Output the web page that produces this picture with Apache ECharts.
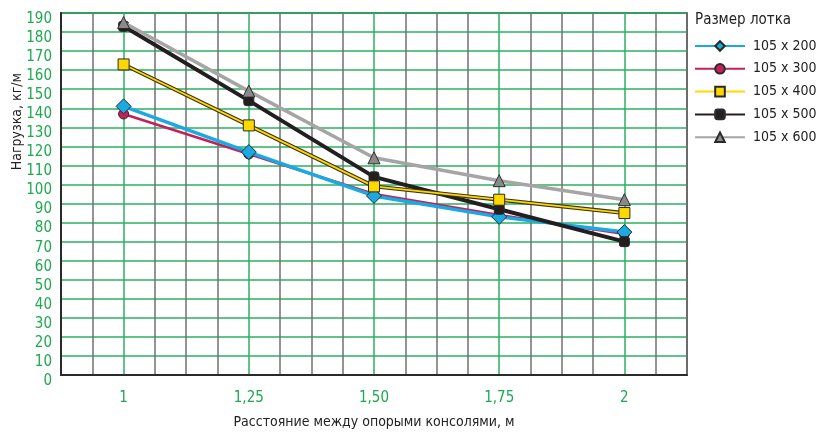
<!DOCTYPE html>
<html>
<head>
<meta charset="utf-8">
<script src="https://cdn.jsdelivr.net/npm/echarts@6/dist/echarts.min.js"></script>
<style>
html,body{margin:0;padding:0;background:#fff;}
#chart{width:826px;height:432px;}
</style>
</head>
<body>
<div id="chart"></div>
<script>
// ---- data ----
var categories = [1, 1.25, 1.5, 1.75, 2];
var tickLabels = ['1', '1,25', '1,50', '1,75', '2'];
var seriesNames = ['105 x 200', '105 x 300', '105 x 400', '105 x 500', '105 x 600'];
var s200 = [141, 117, 94, 83, 75];
var s300 = [137, 116, 95, 84, 74];
var s400 = [163, 131, 99, 92, 85];
var s500 = [183, 144, 104, 87, 70];
var s600 = [185, 149, 114, 102, 92];
var yTitle = 'Нагрузка, кг/м';
var xTitle = 'Расстояние между опорыми консолями, м';
var legendTitle = 'Размер лотка';

var FONT = "'DejaVu Sans Condensed', 'Liberation Sans', sans-serif";
var GREEN_TXT = '#1ea84f';
var GREEN_LINE = '#2bb062';
var GRAY_LINE = '#707070';

function pairs(vals) {
  return categories.map(function (c, i) { return [c, vals[i]]; });
}

function mk(name, vals, color, lw, symbol, size, fill, z) {
  return {
    name: name, type: 'line', data: pairs(vals), z: z,
    symbol: symbol, symbolSize: size, showSymbol: true,
    lineStyle: { color: color, width: lw },
    itemStyle: { color: fill, borderColor: '#2a2a2a', borderWidth: 1 },
    emphasis: { disabled: true }, animation: false
  };
}

var chart = echarts.init(document.getElementById('chart'), null, { renderer: 'canvas' });

var series = [
  mk(seriesNames[1], s300, '#c4205a', 2.5, 'circle', 10, '#c4205a', 2),
  mk(seriesNames[0], s200, '#19a9e3', 3.5, 'diamond', 15, '#19a9e3', 3),
  mk(seriesNames[3], s500, '#231f20', 4, 'roundRect', 10, '#231f20', 4),
  // dark outline under the yellow line
  {
    name: '__outline400', type: 'line', data: pairs(s400), z: 5,
    symbol: 'none', lineStyle: { color: '#3a3216', width: 4 },
    emphasis: { disabled: true }, animation: false, silent: true
  },
  mk(seriesNames[2], s400, '#ffd800', 1.8, 'rect', 11, '#ffd800', 6),
  mk(seriesNames[4], s600, '#a5a5a5', 3.5, 'triangle', 12, '#8a8a8a', 7)
];

chart.setOption({
  backgroundColor: '#fff',
  animation: false,
  title: {
    text: legendTitle, left: 690, top: 8,
    textStyle: { fontFamily: FONT, fontSize: 15, fontWeight: 'normal', color: '#222' }
  },
  legend: {
    data: seriesNames,
    orient: 'vertical', left: 694, top: 39, padding: 0,
    itemWidth: 50, itemHeight: 12, itemGap: 8.8,
    textStyle: { fontFamily: FONT, fontSize: 14, lineHeight: 12, color: '#222', padding: [0, 0, 0, 3] },
    selectedMode: false
  },
  grid: {
    left: 61, top: 13, right: 139, bottom: 57,
    containLabel: false, outerBoundsMode: 'none',
    show: true, borderColor: '#2a2a2a', borderWidth: 1.5, backgroundColor: 'transparent'
  },
  xAxis: {
    type: 'value', min: 0.875, max: 2.125, interval: 0.0625,
    name: xTitle, nameLocation: 'middle', nameGap: 40,
    nameTextStyle: { fontFamily: FONT, fontSize: 14, color: '#222' },
    axisLine: { show: true, lineStyle: { color: '#2a2a2a', width: 2 } },
    axisTick: { show: false },
    axisLabel: {
      margin: 16, fontFamily: FONT, fontSize: 15, color: GREEN_TXT,
      showMinLabel: true, showMaxLabel: true,
      formatter: function (v) {
        for (var i = 0; i < categories.length; i++) {
          if (Math.abs(categories[i] - v) < 1e-6) return tickLabels[i];
        }
        return '';
      }
    },
    splitLine: {
      show: true,
      lineStyle: { color: [GRAY_LINE, GRAY_LINE, GREEN_LINE, GRAY_LINE], width: 1.5 }
    }
  },
  yAxis: {
    type: 'value', min: 0, max: 190, interval: 10,
    axisLine: { show: true, lineStyle: { color: '#2a2a2a', width: 2 } },
    axisTick: { show: false },
    axisLabel: {
      margin: 9, fontFamily: FONT, fontSize: 15, color: GREEN_TXT,
      verticalAlign: 'top', lineHeight: 12
    },
    splitLine: { show: true, lineStyle: { color: GREEN_LINE, width: 1.5 } }
  },
  graphic: [{
    type: 'text', left: 10, top: 73, rotation: Math.PI / 2,
    style: { text: yTitle, fontFamily: FONT, fontSize: 14, fill: '#222' }
  }],
  series: series
});
</script>
</body>
</html>
